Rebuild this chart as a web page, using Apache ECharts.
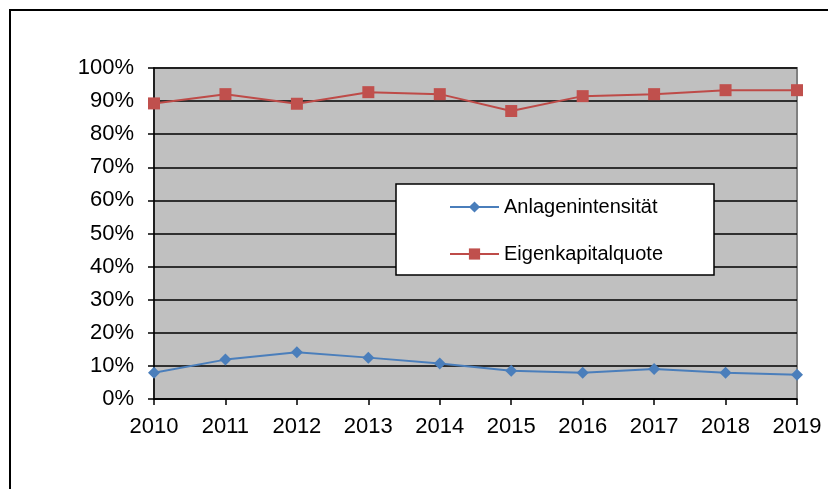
<!DOCTYPE html>
<html><head><meta charset="utf-8">
<script src="https://cdn.jsdelivr.net/npm/echarts@6/dist/echarts.min.js"></script>
<style>html,body{margin:0;padding:0;background:#fff}#c{width:828px;height:489px}</style>
</head><body><div id="c"></div>
<script>
var years = ['2010','2011','2012','2013','2014','2015','2016','2017','2018','2019'];
var anlagenintensitaet = [0.079, 0.119, 0.141, 0.125, 0.107, 0.085, 0.079, 0.091, 0.079, 0.073];
var eigenkapitalquote = [0.893, 0.921, 0.892, 0.927, 0.921, 0.870, 0.915, 0.921, 0.933, 0.933];
var seriesNames = ['Anlagenintensität', 'Eigenkapitalquote'];

var chart = echarts.init(document.getElementById('c'), null, {renderer: 'canvas'});
var font = '"Liberation Sans", Arial, sans-serif';
chart.setOption({
  animation: false,
  backgroundColor: '#fff',
  textStyle: {fontFamily: font},
  grid: {left: 154, top: 68, right: 31, bottom: 90, show: true, backgroundColor: '#C0C0C0', borderColor: '#808080', borderWidth: 2},
  graphic: [
    {type: 'rect', shape: {x: 10, y: 10, width: 900, height: 600}, style: {fill: 'none', stroke: '#000', lineWidth: 2}, z: 0, silent: true},
    {type: 'rect', shape: {x: 396, y: 184, width: 318, height: 91}, style: {fill: '#fff', stroke: '#000', lineWidth: 1.5}, z: 3, silent: true}
  ],
  legend: {
    orient: 'vertical', left: 449, top: 197, padding: 0, itemGap: 27,
    itemWidth: 49, itemHeight: 14,
    textStyle: {fontSize: 20, color: '#000', fontFamily: font},
    data: seriesNames, z: 10
  },
  xAxis: {
    type: 'category', data: years, boundaryGap: false,
    axisLine: {lineStyle: {color: '#000', width: 1.5}},
    axisTick: {alignWithLabel: true, length: 6, lineStyle: {color: '#000', width: 1.5}},
    axisLabel: {fontSize: 22, color: '#000', margin: 17, fontFamily: font},
    splitLine: {show: false}
  },
  yAxis: {
    type: 'value', min: 0, max: 1, interval: 0.1,
    axisLine: {show: true, lineStyle: {color: '#000', width: 1.5}},
    axisTick: {show: true, length: 6, lineStyle: {color: '#000', width: 1.5}},
    axisLabel: {fontSize: 22, color: '#000', margin: 20, fontFamily: font, formatter: function(v){return Math.round(v*100)+'%';}},
    splitLine: {show: true, lineStyle: {color: '#000', width: 1.5}}
  },
  series: [
    {name: seriesNames[0], type: 'line', data: anlagenintensitaet, symbol: 'diamond', symbolSize: 12,
     lineStyle: {color: '#4A7EBB', width: 2}, itemStyle: {color: '#4A7EBB'}, z: 5},
    {name: seriesNames[1], type: 'line', data: eigenkapitalquote, symbol: 'rect', symbolSize: 12,
     lineStyle: {color: '#BE4B48', width: 2}, itemStyle: {color: '#C0504D'}, z: 5}
  ]
});
</script></body></html>
